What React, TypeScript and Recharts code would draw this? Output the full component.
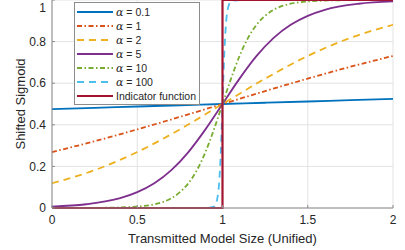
import React from 'react';
import { LineChart, Line, XAxis, YAxis, CartesianGrid, Legend } from 'recharts';

// ── Data ────────────────────────────────────────────────────────
const X_WIDE = [0, 0.25, 0.5, 0.75, 1, 1.25, 1.5, 1.75, 2];
const ALPHA_01 = [0.475, 0.481, 0.488, 0.494, 0.5, 0.506, 0.512, 0.519, 0.525];
const ALPHA_1 = [0.269, 0.321, 0.378, 0.438, 0.5, 0.562, 0.622, 0.679, 0.731];
const ALPHA_2 = [0.119, 0.182, 0.269, 0.378, 0.5, 0.622, 0.731, 0.818, 0.881];

const X_ALPHA_5 = [0, 0.2, 0.4, 0.5, 0.6, 0.7, 0.8, 0.9, 1, 1.1, 1.2, 1.3, 1.4, 1.5, 1.6, 1.8, 2];
const ALPHA_5 = [0.007, 0.018, 0.047, 0.076, 0.119, 0.182, 0.269, 0.378, 0.5, 0.622, 0.731, 0.818, 0.881, 0.924, 0.953, 0.982, 0.993];

const X_ALPHA_10 = [0, 0.3, 0.5, 0.6, 0.7, 0.75, 0.8, 0.85, 0.9, 0.95, 1, 1.05, 1.1, 1.15, 1.2, 1.25, 1.3, 1.4, 1.5, 1.7, 2];
const ALPHA_10 = [0, 0.001, 0.007, 0.018, 0.047, 0.076, 0.119, 0.182, 0.269, 0.378, 0.5, 0.622, 0.731, 0.818, 0.881, 0.924, 0.953, 0.982, 0.993, 0.999, 1];

const X_ALPHA_100 = [0, 0.9, 0.95, 0.96, 0.97, 0.98, 0.99, 1, 1.01, 1.02, 1.03, 1.04, 1.05, 1.1, 2];
const ALPHA_100 = [0, 0, 0.007, 0.018, 0.047, 0.119, 0.269, 0.5, 0.731, 0.881, 0.953, 0.982, 0.993, 1, 1];

const X_INDICATOR = [0, 1, 1, 2];
const INDICATOR = [0, 0, 1, 1];

const X_TICKS = [0, 0.5, 1, 1.5, 2];
const Y_TICKS = [0, 0.2, 0.4, 0.6, 0.8, 1];

// ── Series styling ─────────────────────────────────────────────
interface Series {
  label: string;
  greek: boolean;
  xs: number[];
  ys: number[];
  color: string;
  dash?: string;
  width: number;
  curve: 'monotone' | 'linear';
}

const SERIES: Series[] = [
  { label: '0.1', greek: true, xs: X_WIDE, ys: ALPHA_01, color: '#0072BD', width: 1.8, curve: 'monotone' },
  { label: '1', greek: true, xs: X_WIDE, ys: ALPHA_1, color: '#D95319', dash: '5 2.5 1.5 2.5', width: 1.8, curve: 'monotone' },
  { label: '2', greek: true, xs: X_WIDE, ys: ALPHA_2, color: '#EDB120', dash: '7 5', width: 1.8, curve: 'monotone' },
  { label: '5', greek: true, xs: X_ALPHA_5, ys: ALPHA_5, color: '#7E2F8E', width: 1.8, curve: 'monotone' },
  { label: '10', greek: true, xs: X_ALPHA_10, ys: ALPHA_10, color: '#77AC30', dash: '5 2.5 1.5 2.5', width: 1.8, curve: 'monotone' },
  { label: '100', greek: true, xs: X_ALPHA_100, ys: ALPHA_100, color: '#4DBEEE', dash: '7 5', width: 1.8, curve: 'monotone' },
  { label: 'Indicator function', greek: false, xs: X_INDICATOR, ys: INDICATOR, color: '#A2142F', width: 2.2, curve: 'linear' },
];

const FONT = '"Liberation Sans", Arial, Helvetica, sans-serif';
const AXIS = '#8c8c8c';
const INK = '#262626';

function LegendBox() {
  return (
    <div style={{
      background: '#fff', border: `1px solid ${AXIS}`, padding: '2px 3px 1px 2px',
      fontFamily: FONT, fontSize: 10.5, color: INK, lineHeight: '14px',
    }}>
      {SERIES.map((s) => (
        <div key={s.label} style={{ display: 'flex', alignItems: 'center', height: 14, whiteSpace: 'nowrap' }}>
          <svg width={36} height={14} style={{ marginRight: 3 }}>
            <line x1={0} x2={36} y1={7} y2={7} stroke={s.color} strokeWidth={s.width}
              strokeDasharray={s.dash} />
          </svg>
          {s.greek ? (
            <span>
              <span style={{ fontFamily: '"DejaVu Serif", "Liberation Serif", serif', fontStyle: 'italic', fontSize: 11 }}>α</span>
              {' = '}{s.label}
            </span>
          ) : s.label}
        </div>
      ))}
    </div>
  );
}

export default function App() {
  return (
    <div style={{ position: 'absolute', left: 0, top: 0, background: '#fff' }}>
      <LineChart width={405} height={250} margin={{ top: 0, right: 12, left: 0, bottom: 0 }}>
        <CartesianGrid stroke="#e3e3e3" strokeWidth={1} />
        <XAxis
          dataKey="x" type="number" domain={[0, 2]} ticks={X_TICKS} allowDuplicatedCategory={false}
          height={42} stroke={AXIS} tickSize={-3} tickMargin={10}
          tick={{ fontSize: 12, fill: INK, fontFamily: FONT }}
          label={{ value: 'Transmitted Model Size (Unified)', position: 'insideBottom', offset: 7,
            style: { fontSize: 13, fill: INK, fontFamily: FONT } }}
        />
        <XAxis xAxisId="top" orientation="top" type="number" domain={[0, 2]} ticks={X_TICKS}
          height={0} stroke={AXIS} tickSize={-3} tick={() => <g />} />
        <YAxis
          type="number" domain={[0, 1]} ticks={Y_TICKS} width={52} stroke={AXIS}
          tickSize={-3} tickMargin={9}
          tick={{ fontSize: 12, fill: INK, fontFamily: FONT }}
          label={{ value: 'Shifted Sigmoid', angle: -90, position: 'insideLeft', offset: 20,
            style: { fontSize: 13, fill: INK, fontFamily: FONT, textAnchor: 'middle' } }}
        />
        <YAxis yAxisId="right" orientation="right" type="number" domain={[0, 1]} ticks={Y_TICKS}
          width={0} stroke={AXIS} tickSize={-3} tick={() => <g />} />
        <Legend
          layout="vertical" align="center" verticalAlign="middle"
          wrapperStyle={{ position: 'absolute', left: 74, top: 2, width: 'auto', height: 'auto' }}
          content={() => <LegendBox />}
        />
        {SERIES.map((s) => (
          <Line
            key={s.label}
            data={s.xs.map((x, i) => ({ x, y: s.ys[i] }))}
            dataKey="y"
            type={s.curve}
            stroke={s.color}
            strokeWidth={s.width}
            strokeDasharray={s.dash}
            dot={false}
            activeDot={false}
            isAnimationActive={false}
          />
        ))}
      </LineChart>
    </div>
  );
}
